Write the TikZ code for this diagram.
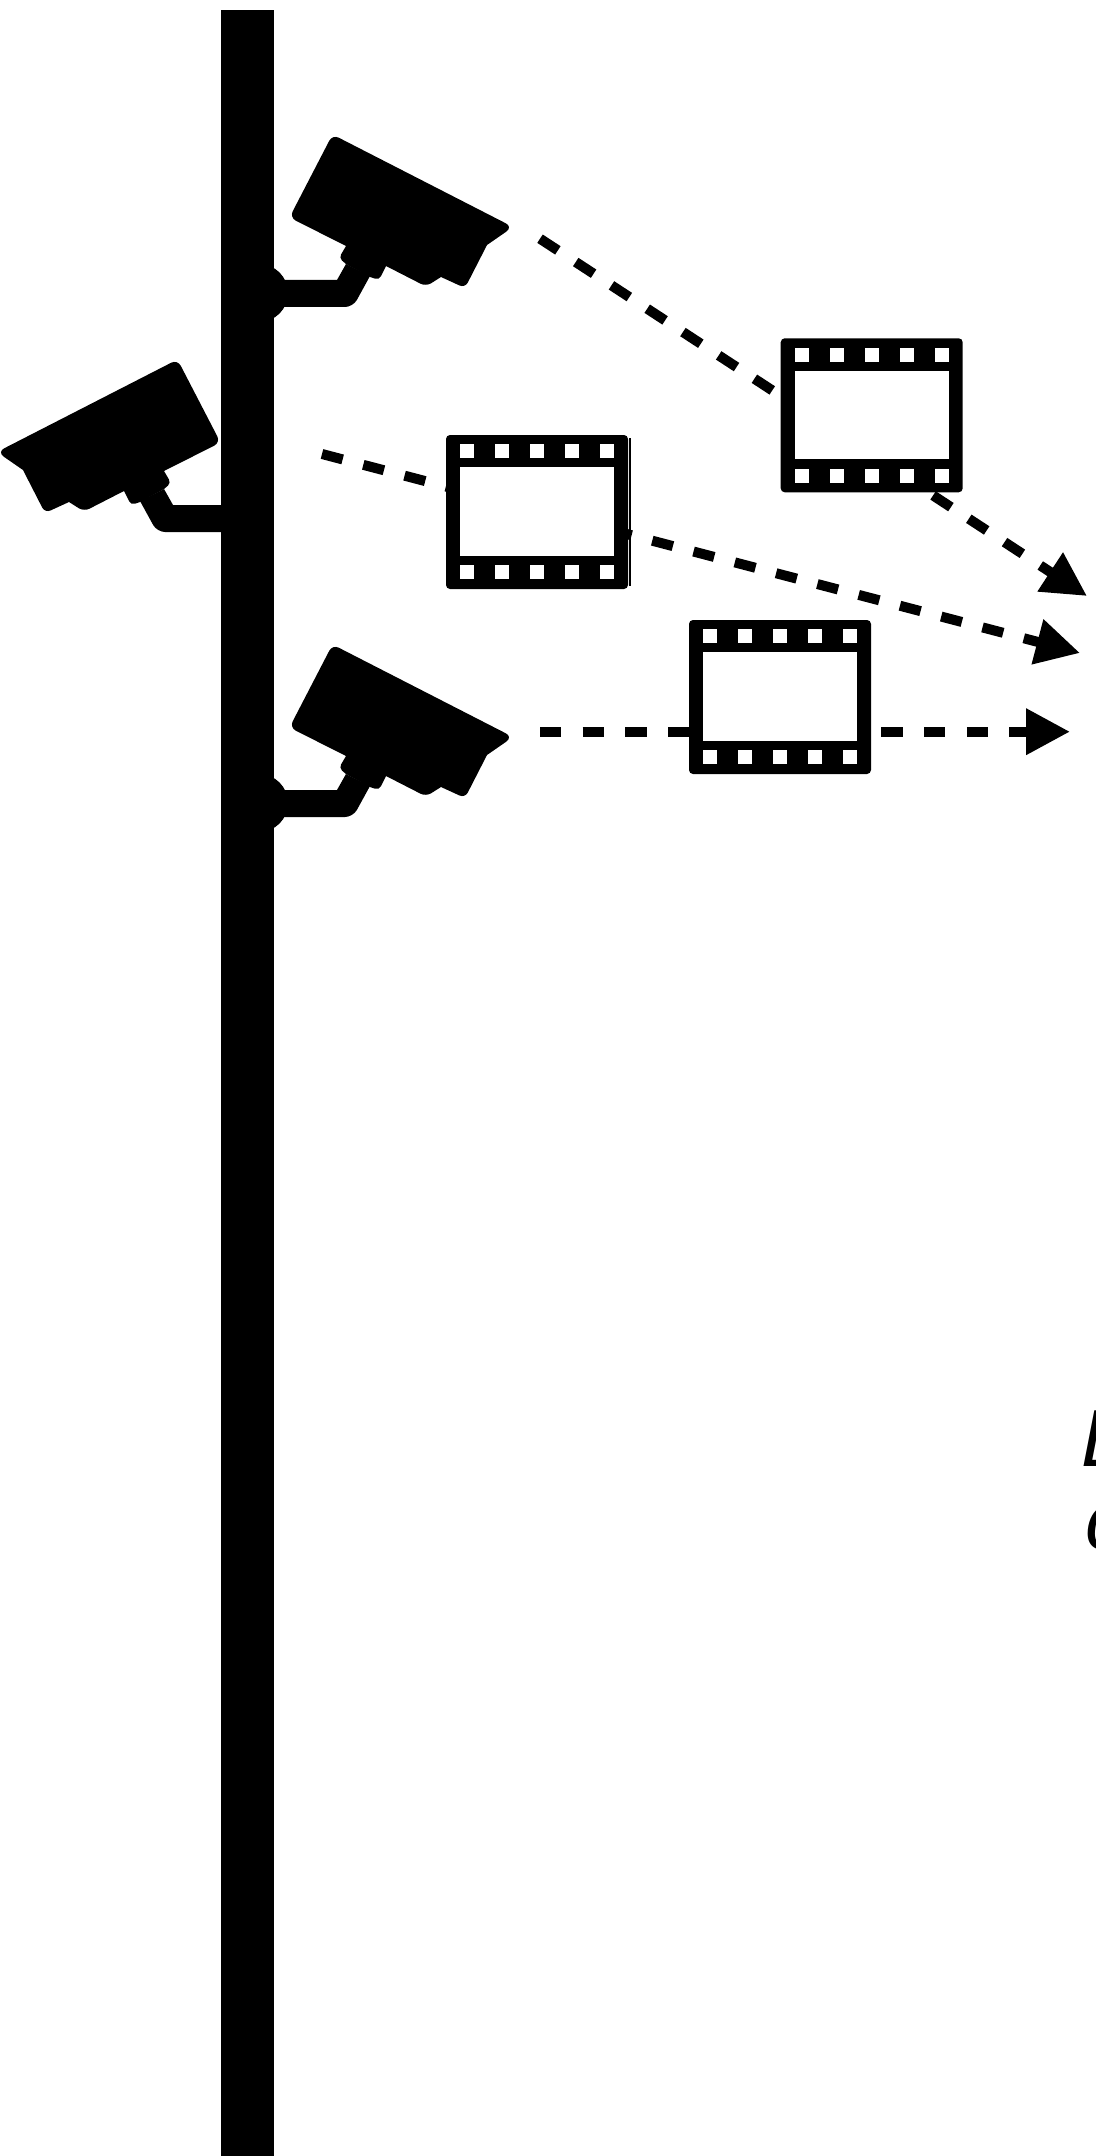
\documentclass[tikz,border=0pt]{standalone}
\usepackage{fontspec}
\setmainfont{Liberation Sans}
\usepackage{xcolor}
\usetikzlibrary{arrows.meta, positioning, calc}

\tikzset{
  stream/.style={line width=5pt, dash pattern=on 10.67pt off 10.67pt, -{Triangle[length=22pt,width=22pt]}},
  bigtext/.style={font=\fontsize{40.5}{40.5}\selectfont\itshape, inner sep=0pt, anchor=base west},
  cctv/.pic={
    % body
    \fill[rounded corners=4pt] (332.5,134.5) -- (513,227) [sharp corners] -- (487,245) [rounded corners=3pt] -- (465,288)
      [sharp corners] -- (441,277) [rounded corners=3pt] -- (426,286.5) [sharp corners] -- (386,266)
      [rounded corners=2pt] -- (379,280) [sharp corners] -- (370,277) -- (346,264)
      [rounded corners=2pt] -- (339,258) [sharp corners] -- (346,246) [rounded corners=3.5pt] -- (289.5,217.5) -- cycle;
    % arm
    \fill (262,280) -- (337,280) -- (346,264) -- (370,276) [rounded corners=4pt] -- (353,307) [sharp corners] -- (262,307) -- cycle;
  },
  film/.pic={
    \fill[rounded corners=2pt] (0,0) rectangle (182,154);
    \fill[white] (14,32.4) rectangle (168,121);
    \foreach \k in {0,...,4} {
      \fill[white] ({14+35*\k},9.4) rectangle ({28+35*\k},23.4);
      \fill[white] ({14+35*\k},130.4) rectangle ({28+35*\k},144.4);
    }
  }
}

\begin{document}
\begin{tikzpicture}[x=0.5pt,y=-0.5pt]
  \useasboundingbox (0,0) rectangle (1096,2156);
  % free ends of the three streams
  \coordinate (outA) at (540,238.7);
  \coordinate (tipA) at (1087,596);
  \coordinate (outB) at (322,454);
  \coordinate (tipB) at (1080,653);
  \coordinate (outC) at (540,731.7);
  \coordinate (tipC) at (1070,731.7);
  \draw[stream] (outA) -- (tipA);
  \draw[stream] (outB) -- (tipB);
  \draw[stream] (outC) -- (tipC);
  % pole and its brackets
  \fill (221,10) rectangle (274,2156);
  \foreach \y in {293,803} {
    \fill (259,\y) circle (29);
  }
  \pic at (0,0) {cctv};
  \pic at (0,510) {cctv};
  \pic[xscale=-1] at (510,225) {cctv};
  % film frames
  \pic at (780.7,338.3) {film};
  \pic at (446,435) {film};
  \pic at (689,620) {film};
  \draw[line width=1pt] (630,438) -- (630,586);
  % text cut by the right edge
  \begin{scope}
    \clip (0,0) rectangle (1096,2156);
    \node[bigtext] (lineA) at (1081,1466) {E};
    \node[bigtext] (lineB) at (1085,1549) {c};
  \end{scope}
\end{tikzpicture}
\end{document}
